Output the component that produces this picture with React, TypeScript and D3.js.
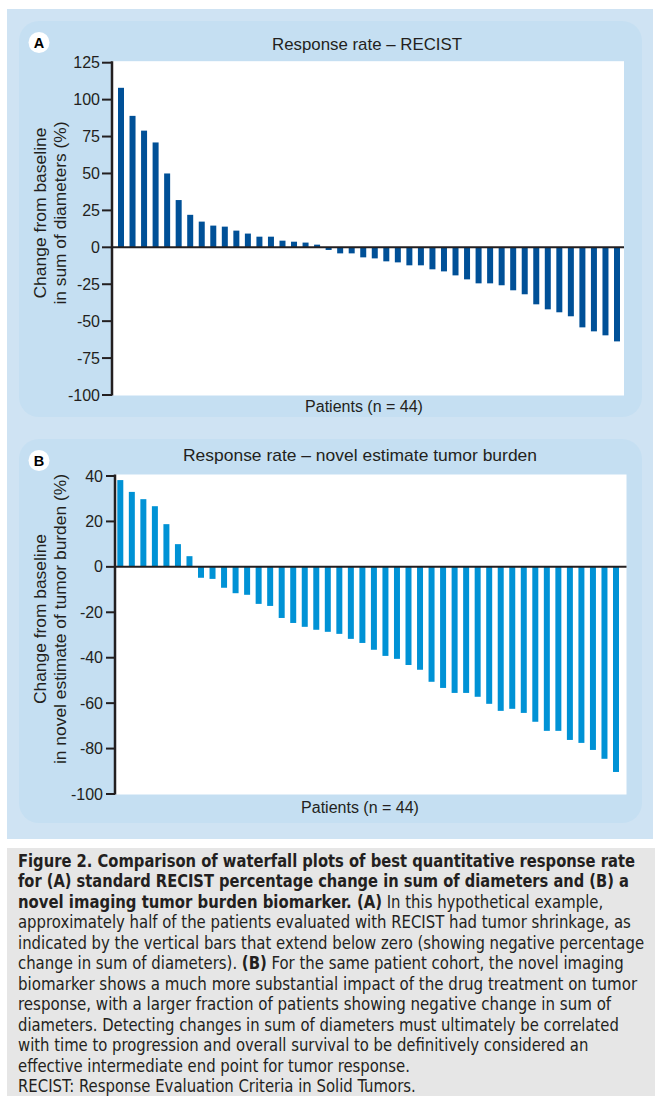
import React, { useLayoutEffect, useRef, useState } from "react";
import * as d3 from "d3";

const recistValues = [108, 89, 79, 71, 50, 32, 22, 17.4, 14.7, 14, 11.3, 9.3, 7.2, 7.2, 4.5, 3.8, 3.2, 1.8,
  -1.8, -4.1, -4.1, -6.8, -7.5, -9.5, -10.2, -12.2, -12.2, -14.9, -16.3, -19, -21.7, -24.4, -24.4, -25.7,
  -29.1, -31.8, -38.6, -42, -44, -46.7, -54.2, -56.9, -59.6, -63.7];
const novelValues = [38.2, 33, 29.8, 26.7, 18.8, 10, 4.7, -4.8, -5.3, -9.2, -11.6, -12.3, -16.3, -17.2,
  -22.5, -24.7, -26.4, -27.7, -28.6, -29.5, -31.7, -33.5, -36.5, -39.2, -40.5, -43.2, -45.3, -50.6, -53.3,
  -55.5, -55.5, -57.2, -60.3, -63.4, -62.5, -64.3, -68.2, -72.2, -72.2, -76.2, -77.5, -80.6, -84.5, -90.3];
const recistTicks = [-100, -75, -50, -25, 0, 25, 50, 75, 100, 125];
const novelTicks = [-100, -80, -60, -40, -20, 0, 20, 40];

const titleA = "Response rate – RECIST";
const titleB = "Response rate – novel estimate tumor burden";
const xLabel = "Patients (n = 44)";
const yLabelA = ["Change from baseline", "in sum of diameters (%)"];
const yLabelB = ["Change from baseline", "in novel estimate of tumor burden (%)"];

type Seg = { t: string; b?: boolean };
const captionLines: Seg[][] = [
  [{ t: "Figure 2. Comparison of waterfall plots of best quantitative response rate", b: true }],
  [{ t: "for (A) standard RECIST percentage change in sum of diameters and (B) a", b: true }],
  [{ t: "novel imaging tumor burden biomarker. (A)", b: true }, { t: " In this hypothetical example," }],
  [{ t: "approximately half of the patients evaluated with RECIST had tumor shrinkage, as" }],
  [{ t: "indicated by the vertical bars that extend below zero (showing negative percentage" }],
  [{ t: "change in sum of diameters). " }, { t: "(B)", b: true }, { t: " For the same patient cohort, the novel imaging" }],
  [{ t: "biomarker shows a much more substantial impact of the drug treatment on tumor" }],
  [{ t: "response, with a larger fraction of patients showing negative change in sum of" }],
  [{ t: "diameters. Detecting changes in sum of diameters must ultimately be correlated" }],
  [{ t: "with time to progression and overall survival to be definitively considered an" }],
  [{ t: "effective intermediate end point for tumor response." }],
  [{ t: "RECIST: Response Evaluation Criteria in Solid Tumors." }],
];
const captionWidths = [617, 611, 585, 613, 626, 606, 619, 593, 601, 570, 392, 398];

const TEXT = "#231f20";
const FONT = "'Liberation Sans', Arial, Helvetica, sans-serif";

type PanelProps = {
  values: number[];
  ticks: number[];
  domain: [number, number];
  yRange: [number, number];
  xRange: [number, number];
  outerPad: number;
  plotLeft: number;
  plotRight: number;
  color: string;
  panelTop: number;
  panelBottom: number;
  letter: string;
  title: string;
  titleX: number;
  titleY: number;
  titleLen: number;
  yLabels: string[];
  yLabelCy: number;
  yLabelLens: number[];
  xLabelX: number;
  xLabelY: number;
  tickLabelRight: number;
  tickLen: number;
};

function Panel(p: PanelProps) {
  const y = d3.scaleLinear().domain(p.domain).range(p.yRange);
  const x = d3.scaleBand<number>()
    .domain(d3.range(p.values.length))
    .range(p.xRange)
    .paddingInner(0.48)
    .paddingOuter(p.outerPad);
  const y0 = y(0);
  const plotTop = p.yRange[1] - 1.5;
  const plotBottom = p.yRange[0] + 0.5;
  return (
    <g>
      <rect x={19} y={p.panelTop} width={623} height={p.panelBottom - p.panelTop} rx={20} ry={20} fill="#c5dff2" />
      <circle cx={39} cy={p.panelTop + 21.5} r={10.5} fill="#fff" />
      <text x={39} y={p.panelTop + 26.5} textAnchor="middle" fontFamily={FONT} fontWeight="bold" fontSize={14.5} fill="#000">{p.letter}</text>
      <text x={p.titleX} y={p.titleY} textAnchor="middle" fontFamily={FONT} fontSize={17} fill={TEXT}
        textLength={p.titleLen} lengthAdjust="spacingAndGlyphs">{p.title}</text>
      <rect x={p.plotLeft} y={plotTop} width={p.plotRight - p.plotLeft} height={plotBottom - plotTop} fill="#fff" />
      {p.values.map((v, i) => (
        <rect key={i} x={x(i)} width={x.bandwidth()} y={Math.min(y(v), y0)} height={Math.abs(y(v) - y0)} fill={p.color} />
      ))}
      <line x1={p.plotLeft} x2={p.plotRight} y1={y0} y2={y0} stroke={TEXT} strokeWidth={2} />
      <line x1={p.plotLeft} x2={p.plotLeft} y1={plotTop} y2={plotBottom} stroke={TEXT} strokeWidth={2.5} />
      {p.ticks.map((t) => (
        <g key={t}>
          <line x1={p.plotLeft - p.tickLen} x2={p.plotLeft} y1={y(t)} y2={y(t)} stroke={TEXT} strokeWidth={2} />
          <text x={p.tickLabelRight} y={y(t)} dy="0.35em" textAnchor="end" fontFamily={FONT} fontSize={16} fill={TEXT}>{t}</text>
        </g>
      ))}
      {p.yLabels.map((l, i) => {
        const cx = 40 + i * 20;
        return (
          <text key={i} transform={`translate(${cx + 6},${p.yLabelCy}) rotate(-90)`} textAnchor="middle"
            fontFamily={FONT} fontSize={16.5} fill={TEXT} textLength={p.yLabelLens[i]} lengthAdjust="spacingAndGlyphs">{l}</text>
        );
      })}
      <text x={p.xLabelX} y={p.xLabelY} textAnchor="middle" fontFamily={FONT} fontSize={16} fill={TEXT}>{xLabel}</text>
    </g>
  );
}

export default function App() {
  const capFont = "'Liberation Sans Narrow', 'DejaVu Sans Condensed', 'Roboto Condensed', Arial, sans-serif";
  const lineRefs = useRef<(SVGTextElement | null)[]>([]);
  const [scales, setScales] = useState<number[]>(captionWidths.map(() => 0.85));
  useLayoutEffect(() => {
    const s = captionWidths.map((w, i) => {
      const el = lineRefs.current[i];
      const n = el ? el.getComputedTextLength() : 0;
      return n > 0 ? w / n : 0.85;
    });
    setScales(s);
  }, []);
  return (
    <svg width={658} height={1102} style={{ position: "absolute", left: 0, top: 0, background: "#fff" }}>
      <rect x={7} y={9} width={646} height={830} fill="#cfe3f3" />
      <Panel values={recistValues} ticks={recistTicks} domain={[-100, 125]} yRange={[395, 62.7]}
        xRange={[112, 626]} outerPad={0.52} plotLeft={112} plotRight={624} color="#005097" panelTop={21} panelBottom={417}
        letter="A" title={titleA} titleX={367} titleY={50} titleLen={190} yLabels={yLabelA} yLabelCy={213} yLabelLens={[171, 183]}
        xLabelX={364} xLabelY={412} tickLabelRight={100} tickLen={10} />
      <Panel values={novelValues} ticks={novelTicks} domain={[-100, 40]} yRange={[794, 476]}
        xRange={[115, 621.3]} outerPad={0.2} plotLeft={115} plotRight={626.5} color="#0092d5" panelTop={439} panelBottom={823}
        letter="B" title={titleB} titleX={360} titleY={461} titleLen={354} yLabels={yLabelB} yLabelCy={619} yLabelLens={[170, 290]}
        xLabelX={360} xLabelY={813} tickLabelRight={103} tickLen={9} />
      <rect x={7} y={848} width={648} height={248} fill="#e6e6e6" />
      {captionLines.map((segs, i) => (
        <g key={i} transform={`translate(18,${866.5 + i * 20.5}) scale(${scales[i]},1)`}>
          <text ref={(el) => { lineRefs.current[i] = el; }} x={0} y={0} fontFamily={capFont} fontSize={17} fill={TEXT}>
            {segs.map((s, j) => (
              <tspan key={j} fontWeight={s.b ? "bold" : "normal"}>{s.t}</tspan>
            ))}
          </text>
        </g>
      ))}
    </svg>
  );
}
